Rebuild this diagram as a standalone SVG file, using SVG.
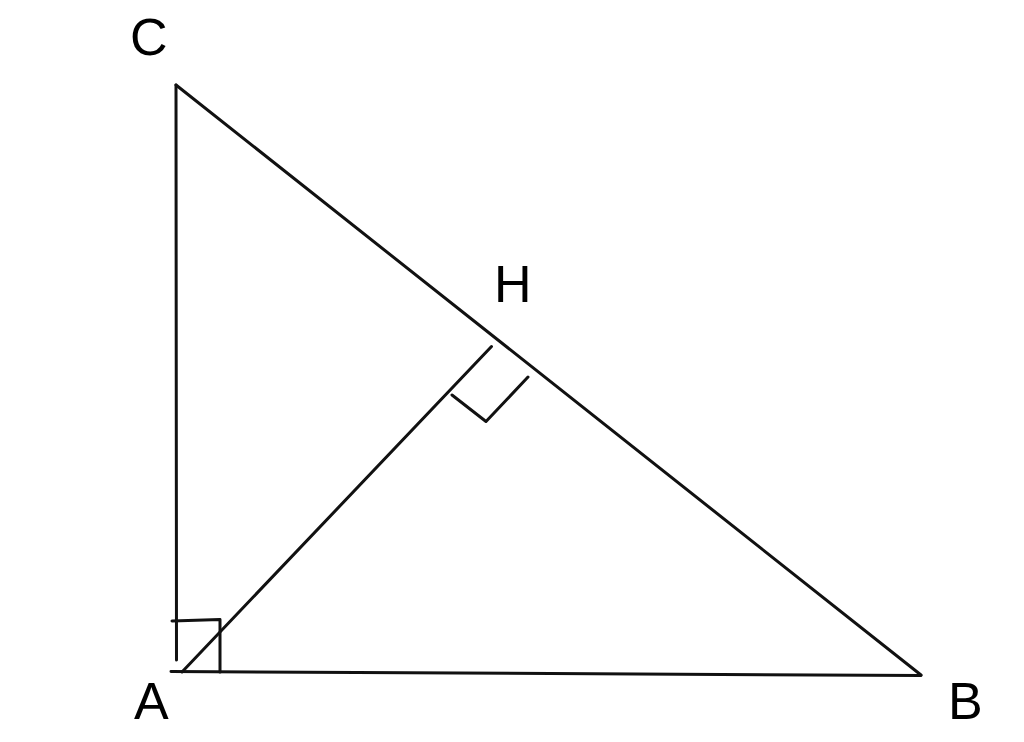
<svg xmlns="http://www.w3.org/2000/svg" width="1024" height="742" viewBox="0 0 1024 742">
<style>
.ln{stroke:#111;stroke-width:3;fill:none;stroke-linecap:round;stroke-linejoin:round}
.lb{font-family:"Liberation Sans",Arial,sans-serif;font-size:52px;fill:#000}
</style>
<rect width="1024" height="742" fill="#fff"/>
<g id="connectors">
<line class="ln" x1="176" y1="85" x2="176.5" y2="660"/>
<line class="ln" x1="176" y1="85" x2="921" y2="675"/>
<line class="ln" x1="171" y1="671.5" x2="921" y2="675.5"/>
<line class="ln" x1="182" y1="672" x2="491.5" y2="346.5"/>
<polyline class="ln" points="172,621 220,619.5 220,672"/>
<polyline class="ln" points="452,395 486,421.5 528,377"/>
</g>
<g id="node-C"><text class="lb" x="130" y="55">C</text></g>
<g id="node-H"><text class="lb" x="494" y="302">H</text></g>
<g id="node-A"><text class="lb" x="134" y="719">A</text></g>
<g id="node-B"><text class="lb" x="948" y="719">B</text></g>
</svg>
